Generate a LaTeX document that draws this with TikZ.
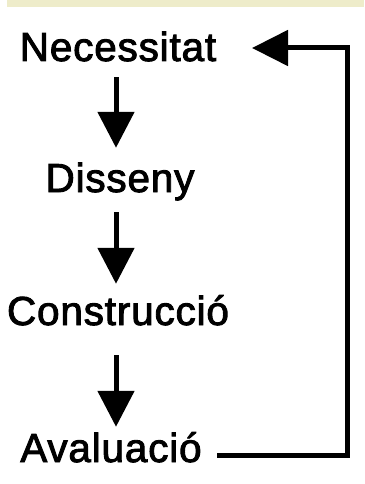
\documentclass[tikz,border=0pt]{standalone}
\usepackage{fontspec}
\setmainfont{Liberation Sans}
\newfontfamily\lblfont{Liberation Sans}[FakeBold=2.2, LetterSpace=2]
\usetikzlibrary{arrows.meta}
\definecolor{band}{RGB}{238,236,202}
\tikzset{
  lbl/.style={inner sep=0pt, anchor=base, text height=29pt, text depth=8pt, font=\lblfont\fontsize{40.5}{48}\selectfont},
  down/.style={line width=5pt, -{Triangle[length=36pt,width=36pt]}},
  fb/.style={line width=5pt, line join=miter, -{Triangle[length=36pt,width=35pt]}}
}
\begin{document}
\begin{tikzpicture}[x=1pt,y=1pt]
\useasboundingbox (0,0) rectangle (364,-484);
\fill[white] (0,0) rectangle (364,-484);
\fill[band] (7,0) rectangle (364,-7);
\node[lbl] (nec) at (118,-61) {Necessitat};
\node[lbl] (dis) at (120,-192) {Disseny};
\node[lbl] (con) at (118,-325) {Construcció};
\node[lbl] (ava) at (111,-462) {Avaluació};
\coordinate (x) at (116,0);
\draw[down, shorten <=8pt, shorten >=15pt] (nec.south -| x) -- (dis.north -| x);
\draw[down, shorten <=12pt, shorten >=12pt] (dis.south -| x) -- (con.north -| x);
\draw[down, shorten <=22pt, shorten >=6pt] (con.south -| x) -- (ava.north -| x);
\coordinate (fbs) at (217,-455);
\coordinate (c1) at (347,-455);
\coordinate (c2) at (347,-48);
\coordinate (fbe) at (252,-48);
\draw[fb] (fbs) -- (c1) -- (c2) -- (fbe);
\end{tikzpicture}
\end{document}
